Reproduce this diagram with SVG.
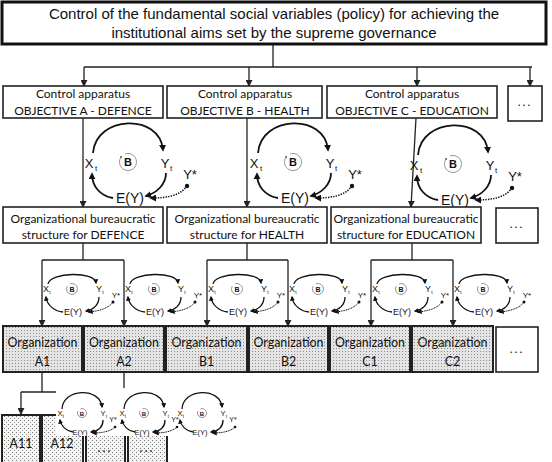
<svg xmlns="http://www.w3.org/2000/svg" width="552" height="462" viewBox="0 0 552 462">
<defs>
<style>
.top{fill:#fff;stroke:#111;stroke-width:3}
.box{fill:#fff;stroke:#222;stroke-width:1.6}
.org{fill:url(#dots);stroke:#222;stroke-width:2}
.leaf{fill:url(#dots2);stroke:#222;stroke-width:2}
.conn{stroke:#222;stroke-width:1.3;fill:none}
.faint{stroke:#aaa;stroke-width:1.3;fill:none}
.arc{stroke:#111;stroke-width:1.8;fill:none}
.arcs{stroke:#111;stroke-width:1.3;fill:none}
.dotl{stroke:#111;stroke-width:1.5;fill:none;stroke-dasharray:1.4 1.2}
.dotls{stroke:#111;stroke-width:1;fill:none;stroke-dasharray:1.2 0.6}
.bc{stroke:#888;stroke-width:0.9;fill:none}
.t1{font-family:"Liberation Sans",Arial,sans-serif;font-size:15px;fill:#111;text-anchor:middle}
.t2{font-family:Lato,"Open Sans",sans-serif;font-size:12px;fill:#111;text-anchor:middle}
.t3{font-family:Lato,"Open Sans",sans-serif;font-size:12.4px;fill:#111;text-anchor:middle}
.v{font-family:"Liberation Sans",Arial,sans-serif;fill:#111;text-anchor:middle}
.b{font-family:"Liberation Sans",Arial,sans-serif;font-weight:bold;fill:#111;text-anchor:middle}
</style>
<pattern id="dots" width="3" height="3" patternUnits="userSpaceOnUse"><rect width="3" height="3" fill="#e4e4e4"/><rect width="1" height="1" fill="#8c8c8c"/></pattern>
<pattern id="dots2" width="4" height="4" patternUnits="userSpaceOnUse"><rect width="4" height="4" fill="#f4f4f4"/><rect width="1" height="1" fill="#777"/><rect x="2" y="2" width="1" height="1" fill="#999"/></pattern>
<marker id="ah" viewBox="0 0 8 8" refX="7" refY="4" markerWidth="7" markerHeight="7" markerUnits="userSpaceOnUse" orient="auto"><path d="M0,0 L8,4 L0,8 z" fill="#222"/></marker>
<marker id="am" viewBox="0 0 8 8" refX="6" refY="4" markerWidth="7" markerHeight="7" markerUnits="userSpaceOnUse" orient="auto"><path d="M0,0 L8,4 L0,8 z" fill="#111"/></marker>
<marker id="as" viewBox="0 0 8 8" refX="6" refY="4" markerWidth="5" markerHeight="5" markerUnits="userSpaceOnUse" orient="auto"><path d="M0,0 L8,4 L0,8 z" fill="#111"/></marker>
</defs>
<rect width="552" height="462" fill="#fff"/>

<g id="connectors">
<path class="conn" d="M273,44 V67 M84,67 H532"/>
<path class="conn" marker-end="url(#ah)" d="M84,67 V86"/>
<path class="conn" marker-end="url(#ah)" d="M249,67 V86"/>
<path class="conn" marker-end="url(#ah)" d="M417,67 V86"/>
<path class="conn" marker-end="url(#ah)" d="M530,67 V86"/>
<path class="conn" marker-end="url(#ah)" d="M83,118 V207"/>
<path class="conn" marker-end="url(#ah)" d="M247,118 V207"/>
<path class="conn" marker-end="url(#ah)" d="M416,118 L411,207"/>
<path class="conn" d="M83,243 V260 M42,260 H124 M247,243 V260 M207,260 H288 M412,243 V260 M371,260 H453"/>
<path class="conn" marker-end="url(#ah)" d="M42,260 V326"/>
<path class="conn" marker-end="url(#ah)" d="M124,260 V326"/>
<path class="conn" marker-end="url(#ah)" d="M207,260 V326"/>
<path class="conn" marker-end="url(#ah)" d="M288,260 V326"/>
<path class="conn" marker-end="url(#ah)" d="M371,260 V326"/>
<path class="conn" marker-end="url(#ah)" d="M453,260 V326"/>
<path class="conn" d="M42,372 V392 M21,392 H56"/>
<path class="conn" d="M124,372 V392"/>
<path class="faint" d="M56,392 H63 M105,392 H124"/>
<path class="conn" marker-end="url(#ah)" d="M21,392 V414"/>
</g>

<g id="top">
<rect class="top" x="2" y="2" width="544" height="42"/>
<text class="t1" x="274" y="19">Control of the fundamental social variables (policy) for achieving the</text>
<text class="t1" x="274" y="38">institutional aims set by the supreme governance</text>
</g>

<g id="ctrlA"><rect class="box" x="3" y="86" width="160" height="32"/><text class="t2" x="83" y="98">Control apparatus</text><text class="t2" x="83" y="115">OBJECTIVE A - DEFENCE</text></g>
<g id="ctrlB"><rect class="box" x="167" y="86" width="155" height="32"/><text class="t2" x="245" y="98">Control apparatus</text><text class="t2" x="245" y="115">OBJECTIVE B -  HEALTH</text></g>
<g id="ctrlC"><rect class="box" x="327" y="86" width="170" height="32"/><text class="t2" x="412" y="98">Control apparatus</text><text class="t2" x="412" y="115">OBJECTIVE C - EDUCATION</text></g>
<g id="ctrlMore"><rect class="box" x="508" y="86" width="34" height="35"/><text class="t2" x="525" y="106" letter-spacing="2">...</text></g>

<g id="loopA">
<path class="arc" marker-end="url(#am)" d="M93,153 C96,115 160,113 163,150"/>
<path class="arc" marker-end="url(#am)" d="M113,198 C100,196 92,186 92,174"/>
<path class="arc" marker-end="url(#am)" d="M166,173 C166,184 157,193 146,196"/>
<path class="dotl" marker-end="url(#am)" d="M187,186 C180,196 166,198 151,198"/>
<circle cx="187" cy="186" r="2.2" fill="#111"/>
<path class="bc" d="M125.1,154 A8.5 8.5 0 1 1 120.6,157.8"/><circle cx="121" cy="157" r="1" fill="#555"/>
<text class="b" x="128" y="166" font-size="11">B</text>
<text class="v" x="89" y="168" font-size="13">X</text><text class="v" x="96" y="171" font-size="8">t</text>
<text class="v" x="165" y="168" font-size="13">Y</text><text class="v" x="171" y="171" font-size="8">t</text>
<text class="v" x="190" y="179" font-size="13">Y*</text>
<text class="v" x="130" y="203" font-size="14">E(Y)</text>
</g>
<g id="loopB" transform="translate(165,0)">
<path class="arc" marker-end="url(#am)" d="M93,153 C96,115 160,113 163,150"/>
<path class="arc" marker-end="url(#am)" d="M113,198 C100,196 92,186 92,174"/>
<path class="arc" marker-end="url(#am)" d="M166,173 C166,184 157,193 146,196"/>
<path class="dotl" marker-end="url(#am)" d="M187,186 C180,196 166,198 151,198"/>
<circle cx="187" cy="186" r="2.2" fill="#111"/>
<path class="bc" d="M125.1,154 A8.5 8.5 0 1 1 120.6,157.8"/><circle cx="121" cy="157" r="1" fill="#555"/>
<text class="b" x="128" y="166" font-size="11">B</text>
<text class="v" x="89" y="168" font-size="13">X</text><text class="v" x="96" y="171" font-size="8">t</text>
<text class="v" x="165" y="168" font-size="13">Y</text><text class="v" x="171" y="171" font-size="8">t</text>
<text class="v" x="190" y="179" font-size="13">Y*</text>
<text class="v" x="130" y="203" font-size="14">E(Y)</text>
</g>
<g id="loopC" transform="translate(325,2)">
<path class="arc" marker-end="url(#am)" d="M93,153 C96,115 160,113 163,150"/>
<path class="arc" marker-end="url(#am)" d="M113,198 C100,196 92,186 92,174"/>
<path class="arc" marker-end="url(#am)" d="M166,173 C166,184 157,193 146,196"/>
<path class="dotl" marker-end="url(#am)" d="M187,186 C180,196 166,198 151,198"/>
<circle cx="187" cy="186" r="2.2" fill="#111"/>
<path class="bc" d="M125.1,154 A8.5 8.5 0 1 1 120.6,157.8"/><circle cx="121" cy="157" r="1" fill="#555"/>
<text class="b" x="128" y="166" font-size="11">B</text>
<text class="v" x="89" y="168" font-size="13">X</text><text class="v" x="96" y="171" font-size="8">t</text>
<text class="v" x="165" y="168" font-size="13">Y</text><text class="v" x="171" y="171" font-size="8">t</text>
<text class="v" x="190" y="179" font-size="13">Y*</text>
<text class="v" x="130" y="203" font-size="14">E(Y)</text>
</g>

<g id="burA"><rect class="box" x="3" y="207" width="160" height="36"/><text class="t2" x="83" y="223">Organizational bureaucratic</text><text class="t2" x="83" y="239">structure for DEFENCE</text></g>
<g id="burB"><rect class="box" x="167" y="207" width="160" height="36"/><text class="t2" x="247" y="223">Organizational bureaucratic</text><text class="t2" x="247" y="239">structure for HEALTH</text></g>
<g id="burC"><rect class="box" x="331" y="207" width="150" height="36"/><text class="t2" x="406" y="223">Organizational bureaucratic</text><text class="t2" x="406" y="239">structure for EDUCATION</text></g>
<g id="burMore"><rect class="box" x="496" y="208" width="42" height="35"/><text class="t2" x="517" y="228" letter-spacing="2">...</text></g>

<g id="sloopA1" transform="translate(46,292)">
<path class="arcs" marker-end="url(#as)" d="M2,-8 C4,-20 49,-21 50,-9"/>
<path class="arcs" marker-end="url(#as)" d="M17,20 C8,19 1,13 0,5"/>
<path class="arcs" marker-end="url(#as)" d="M53,5 C53,13 47,18 40,19"/>
<path class="dotls" marker-end="url(#as)" d="M67,10 C62,17 52,19 43,20"/>
<circle cx="67" cy="10" r="1.5" fill="#111"/>
<path class="bc" d="M24.1,-8.2 A5.5 5.5 0 1 1 21.2,-5.8"/>
<text class="b" x="26" y="0" font-size="7">B</text>
<text class="v" x="0" y="0" font-size="9">X</text><text class="v" x="4" y="2" font-size="5">t</text>
<text class="v" x="53" y="0" font-size="9">Y</text><text class="v" x="57" y="2" font-size="5">t</text>
<text class="v" x="70" y="6" font-size="8">Y*</text>
<text class="v" x="27" y="23" font-size="9">E(Y)</text>
</g>
<g id="sloopA2" transform="translate(128,292)">
<path class="arcs" marker-end="url(#as)" d="M2,-8 C4,-20 49,-21 50,-9"/>
<path class="arcs" marker-end="url(#as)" d="M17,20 C8,19 1,13 0,5"/>
<path class="arcs" marker-end="url(#as)" d="M53,5 C53,13 47,18 40,19"/>
<path class="dotls" marker-end="url(#as)" d="M67,10 C62,17 52,19 43,20"/>
<circle cx="67" cy="10" r="1.5" fill="#111"/>
<path class="bc" d="M24.1,-8.2 A5.5 5.5 0 1 1 21.2,-5.8"/>
<text class="b" x="26" y="0" font-size="7">B</text>
<text class="v" x="0" y="0" font-size="9">X</text><text class="v" x="4" y="2" font-size="5">t</text>
<text class="v" x="53" y="0" font-size="9">Y</text><text class="v" x="57" y="2" font-size="5">t</text>
<text class="v" x="70" y="6" font-size="8">Y*</text>
<text class="v" x="27" y="23" font-size="9">E(Y)</text>
</g>
<g id="sloopB1" transform="translate(211,292)">
<path class="arcs" marker-end="url(#as)" d="M2,-8 C4,-20 49,-21 50,-9"/>
<path class="arcs" marker-end="url(#as)" d="M17,20 C8,19 1,13 0,5"/>
<path class="arcs" marker-end="url(#as)" d="M53,5 C53,13 47,18 40,19"/>
<path class="dotls" marker-end="url(#as)" d="M67,10 C62,17 52,19 43,20"/>
<circle cx="67" cy="10" r="1.5" fill="#111"/>
<path class="bc" d="M24.1,-8.2 A5.5 5.5 0 1 1 21.2,-5.8"/>
<text class="b" x="26" y="0" font-size="7">B</text>
<text class="v" x="0" y="0" font-size="9">X</text><text class="v" x="4" y="2" font-size="5">t</text>
<text class="v" x="53" y="0" font-size="9">Y</text><text class="v" x="57" y="2" font-size="5">t</text>
<text class="v" x="70" y="6" font-size="8">Y*</text>
<text class="v" x="27" y="23" font-size="9">E(Y)</text>
</g>
<g id="sloopB2" transform="translate(292,292)">
<path class="arcs" marker-end="url(#as)" d="M2,-8 C4,-20 49,-21 50,-9"/>
<path class="arcs" marker-end="url(#as)" d="M17,20 C8,19 1,13 0,5"/>
<path class="arcs" marker-end="url(#as)" d="M53,5 C53,13 47,18 40,19"/>
<path class="dotls" marker-end="url(#as)" d="M67,10 C62,17 52,19 43,20"/>
<circle cx="67" cy="10" r="1.5" fill="#111"/>
<path class="bc" d="M24.1,-8.2 A5.5 5.5 0 1 1 21.2,-5.8"/>
<text class="b" x="26" y="0" font-size="7">B</text>
<text class="v" x="0" y="0" font-size="9">X</text><text class="v" x="4" y="2" font-size="5">t</text>
<text class="v" x="53" y="0" font-size="9">Y</text><text class="v" x="57" y="2" font-size="5">t</text>
<text class="v" x="70" y="6" font-size="8">Y*</text>
<text class="v" x="27" y="23" font-size="9">E(Y)</text>
</g>
<g id="sloopC1" transform="translate(375,292)">
<path class="arcs" marker-end="url(#as)" d="M2,-8 C4,-20 49,-21 50,-9"/>
<path class="arcs" marker-end="url(#as)" d="M17,20 C8,19 1,13 0,5"/>
<path class="arcs" marker-end="url(#as)" d="M53,5 C53,13 47,18 40,19"/>
<path class="dotls" marker-end="url(#as)" d="M67,10 C62,17 52,19 43,20"/>
<circle cx="67" cy="10" r="1.5" fill="#111"/>
<path class="bc" d="M24.1,-8.2 A5.5 5.5 0 1 1 21.2,-5.8"/>
<text class="b" x="26" y="0" font-size="7">B</text>
<text class="v" x="0" y="0" font-size="9">X</text><text class="v" x="4" y="2" font-size="5">t</text>
<text class="v" x="53" y="0" font-size="9">Y</text><text class="v" x="57" y="2" font-size="5">t</text>
<text class="v" x="70" y="6" font-size="8">Y*</text>
<text class="v" x="27" y="23" font-size="9">E(Y)</text>
</g>
<g id="sloopC2" transform="translate(457,292)">
<path class="arcs" marker-end="url(#as)" d="M2,-8 C4,-20 49,-21 50,-9"/>
<path class="arcs" marker-end="url(#as)" d="M17,20 C8,19 1,13 0,5"/>
<path class="arcs" marker-end="url(#as)" d="M53,5 C53,13 47,18 40,19"/>
<path class="dotls" marker-end="url(#as)" d="M67,10 C62,17 52,19 43,20"/>
<circle cx="67" cy="10" r="1.5" fill="#111"/>
<path class="bc" d="M24.1,-8.2 A5.5 5.5 0 1 1 21.2,-5.8"/>
<text class="b" x="26" y="0" font-size="7">B</text>
<text class="v" x="0" y="0" font-size="9">X</text><text class="v" x="4" y="2" font-size="5">t</text>
<text class="v" x="53" y="0" font-size="9">Y</text><text class="v" x="57" y="2" font-size="5">t</text>
<text class="v" x="70" y="6" font-size="8">Y*</text>
<text class="v" x="27" y="23" font-size="9">E(Y)</text>
</g>

<g id="orgA1"><rect class="org" x="3" y="326" width="79" height="46"/><text class="t3" x="42.5" y="347">Organization</text><text class="t3" x="42.5" y="366">A1</text></g>
<g id="orgA2"><rect class="org" x="84" y="326" width="80" height="46"/><text class="t3" x="124" y="347">Organization</text><text class="t3" x="124" y="366">A2</text></g>
<g id="orgB1"><rect class="org" x="166" y="326" width="81" height="46"/><text class="t3" x="206.5" y="347">Organization</text><text class="t3" x="206.5" y="366">B1</text></g>
<g id="orgB2"><rect class="org" x="249" y="326" width="79" height="46"/><text class="t3" x="288.5" y="347">Organization</text><text class="t3" x="288.5" y="366">B2</text></g>
<g id="orgC1"><rect class="org" x="330" y="326" width="80" height="46"/><text class="t3" x="370" y="347">Organization</text><text class="t3" x="370" y="366">C1</text></g>
<g id="orgC2"><rect class="org" x="412" y="326" width="81" height="46"/><text class="t3" x="452.5" y="347">Organization</text><text class="t3" x="452.5" y="366">C2</text></g>
<g id="orgMore"><rect class="box" x="496" y="327" width="42" height="45"/><text class="t2" x="517" y="353" letter-spacing="2">...</text></g>

<g id="leafA11"><rect class="leaf" x="2" y="415" width="38" height="50"/><text class="t3" x="21" y="448">A11</text></g>
<g id="leafA12"><rect class="leaf" x="42" y="415" width="41" height="50"/><text class="t3" x="62" y="448">A12</text></g>
<g id="leafM1"><rect class="leaf" x="86" y="415" width="39" height="50"/><text class="t3" x="105" y="452" letter-spacing="2">...</text></g>
<g id="leafM2"><rect class="leaf" x="128" y="415" width="39" height="50"/><text class="t3" x="147" y="452" letter-spacing="2">...</text></g>
<rect x="56" y="388" width="194" height="48" fill="#fff"/>

<g id="bloop1" transform="translate(60,416)">
<path class="arcs" marker-end="url(#as)" d="M2,-7 C3,-28 40,-29 42,-9"/>
<path class="arcs" marker-end="url(#as)" d="M13,16 C6,15 1,10 0,4"/>
<path class="arcs" marker-end="url(#as)" d="M43,4 C43,11 38,15 31,16"/>
<path class="dotls" marker-end="url(#as)" d="M55,11 C50,16 40,17 33,17"/>
<circle cx="55" cy="11" r="1.3" fill="#111"/>
<path class="bc" d="M20.5,-7.2 A4.5 4.5 0 1 1 18.1,-5.2"/>
<text class="b" x="22" y="-0.5" font-size="6">B</text>
<text class="v" x="0" y="0" font-size="7.5">X</text><text class="v" x="3.5" y="1.5" font-size="4.5">t</text>
<text class="v" x="43" y="0" font-size="7.5">Y</text><text class="v" x="46.5" y="1.5" font-size="4.5">t</text>
<text class="v" x="53" y="6" font-size="7">Y*</text>
<text class="v" x="20" y="19" font-size="7.5">E(Y)</text>
</g>
<g id="bloop2" transform="translate(122,416)">
<path class="arcs" marker-end="url(#as)" d="M2,-7 C3,-28 40,-29 42,-9"/>
<path class="arcs" marker-end="url(#as)" d="M13,16 C6,15 1,10 0,4"/>
<path class="arcs" marker-end="url(#as)" d="M43,4 C43,11 38,15 31,16"/>
<path class="dotls" marker-end="url(#as)" d="M55,11 C50,16 40,17 33,17"/>
<circle cx="55" cy="11" r="1.3" fill="#111"/>
<path class="bc" d="M20.5,-7.2 A4.5 4.5 0 1 1 18.1,-5.2"/>
<text class="b" x="22" y="-0.5" font-size="6">B</text>
<text class="v" x="0" y="0" font-size="7.5">X</text><text class="v" x="3.5" y="1.5" font-size="4.5">t</text>
<text class="v" x="43" y="0" font-size="7.5">Y</text><text class="v" x="46.5" y="1.5" font-size="4.5">t</text>
<text class="v" x="53" y="6" font-size="7">Y*</text>
<text class="v" x="20" y="19" font-size="7.5">E(Y)</text>
</g>
<g id="bloop3" transform="translate(180,416)">
<path class="arcs" marker-end="url(#as)" d="M2,-7 C3,-28 40,-29 42,-9"/>
<path class="arcs" marker-end="url(#as)" d="M13,16 C6,15 1,10 0,4"/>
<path class="arcs" marker-end="url(#as)" d="M43,4 C43,11 38,15 31,16"/>
<path class="dotls" marker-end="url(#as)" d="M55,11 C50,16 40,17 33,17"/>
<circle cx="55" cy="11" r="1.3" fill="#111"/>
<path class="bc" d="M20.5,-7.2 A4.5 4.5 0 1 1 18.1,-5.2"/>
<text class="b" x="22" y="-0.5" font-size="6">B</text>
<text class="v" x="0" y="0" font-size="7.5">X</text><text class="v" x="3.5" y="1.5" font-size="4.5">t</text>
<text class="v" x="43" y="0" font-size="7.5">Y</text><text class="v" x="46.5" y="1.5" font-size="4.5">t</text>
<text class="v" x="53" y="6" font-size="7">Y*</text>
<text class="v" x="20" y="19" font-size="7.5">E(Y)</text>
</g>
</svg>
